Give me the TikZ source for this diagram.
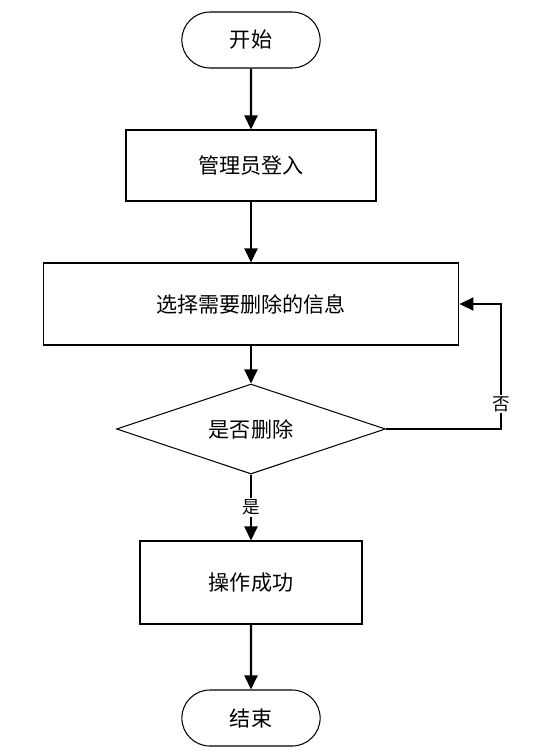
\documentclass[tikz,border=0pt]{standalone}
\usepackage{fontspec}
\setmainfont{Noto Sans CJK SC}
\usetikzlibrary{arrows.meta,shapes.misc,shapes.geometric}

\tikzset{
  term/.style={draw, rounded rectangle, minimum width=3cm, minimum height=1.12cm, line width=0.6pt, font=\fontsize{12}{14}\selectfont},
  proc/.style={draw, rectangle, line width=0.6pt, font=\fontsize{12}{14}\selectfont},
  decide/.style={draw, diamond, aspect=3, inner sep=0pt, line width=0.6pt, font=\fontsize{12}{14}\selectfont},
  flow/.style={-{Triangle[length=2.8mm,width=2.6mm]}, line width=1.2pt},
  tag/.style={fill=white, inner sep=1pt, font=\fontsize{10}{12}\selectfont}
}

\begin{document}
\begin{tikzpicture}[x=0.02cm, y=-0.02cm]
        \useasboundingbox (0,0) rectangle (536,752);

        % Début et connexion
        \node[term] (start) at (251, 40) {开始};
        \node[proc, minimum width=5cm, minimum height=1.42cm] (login) at (251, 165.5) {管理员登入};
        \node[proc, minimum width=8.32cm, minimum height=1.64cm] (del) at (251, 304) {选择需要删除的信息};

        % Décision
        \node[decide, minimum width=5.38cm, minimum height=1.8cm] (dec) at (251, 429) {是否删除};

        % Fin
        \node[proc, minimum width=4.44cm, minimum height=1.66cm] (ok) at (251, 582.5) {操作成功};
        \node[term] (stop) at (251, 718) {结束};

        \coordinate (turn) at (501, 429);

        % Flèches
        \draw[flow] (start) -- (login);
        \draw[flow] (login) -- (del);
        \draw[flow] (del) -- (dec);
        \draw[flow] (dec) -- node[tag, pos=0.5] {是} (ok);
        \draw[flow] (ok) -- (stop);
        \draw[flow] (dec.east) -- (turn) |- node[tag, pos=0.1] {否} (del.east);
    \end{tikzpicture}
\end{document}
